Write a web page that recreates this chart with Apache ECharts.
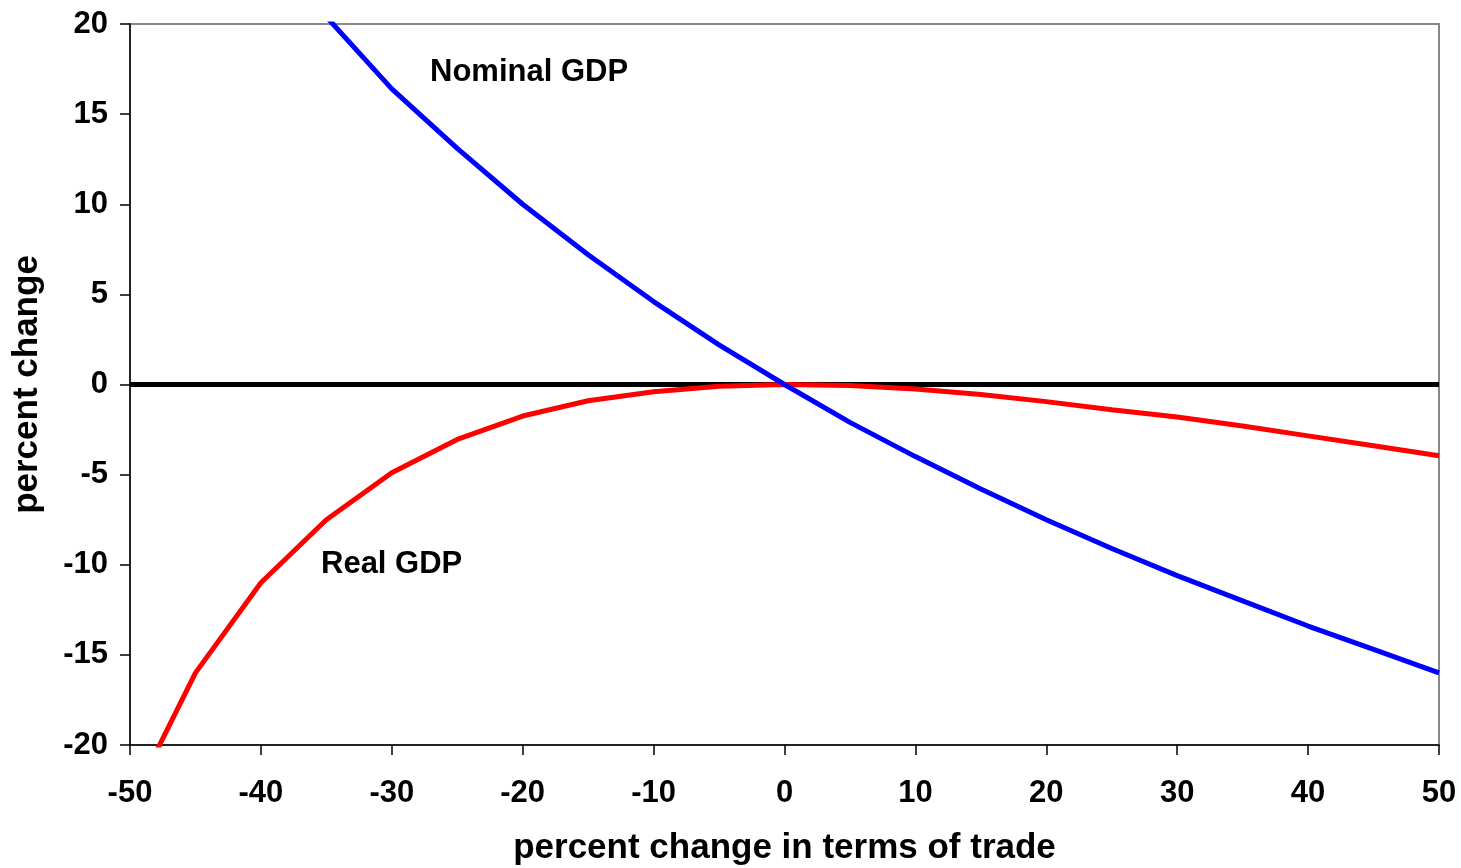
<!DOCTYPE html>
<html>
<head>
<meta charset="utf-8">
<script src="https://cdn.jsdelivr.net/npm/echarts@6/dist/echarts.min.js"></script>
<style>
html,body{margin:0;padding:0;background:#fff;}
#chart{width:1461px;height:868px;}
</style>
</head>
<body>
<div id="chart"></div>
<script>
const nominalX = [-35,-30,-25,-20,-15,-10,-5,0,5,10,15,20,25,30,35,40,45,50];
const nominalY = [20.4,16.4,13.1,10.0,7.2,4.6,2.2,0,-2.1,-4.0,-5.8,-7.5,-9.1,-10.6,-12.0,-13.4,-14.7,-16.0];
const realX = [-50,-45,-40,-35,-30,-25,-20,-15,-10,-5,0,5,10,15,20,25,30,35,40,45,50];
const realY = [-23.3,-16.0,-11.0,-7.5,-4.9,-3.05,-1.75,-0.9,-0.4,-0.1,0,-0.05,-0.25,-0.55,-0.95,-1.4,-1.8,-2.3,-2.85,-3.4,-3.95];
const zeroX = [-50,50];
const zeroY = [0,0];
const xTicks = {min:-50,max:50,interval:10};
const yTicks = {min:-20,max:20,interval:5};

const zip = (xs, ys) => xs.map((x,i)=>[x, ys[i]]);
const FONT = '"Liberation Sans", Arial, sans-serif';

const chart = echarts.init(document.getElementById('chart'), null, {renderer:'canvas'});
chart.setOption({
  animation:false,
  backgroundColor:'#fff',
  grid:{left:130,right:22,top:24,bottom:123,containLabel:false,outerBoundsMode:'none',show:true,borderColor:'#888',borderWidth:2,backgroundColor:'transparent'},
  xAxis:{
    type:'value',min:xTicks.min,max:xTicks.max,interval:xTicks.interval,
    name:'percent change in terms of trade',nameLocation:'middle',nameGap:86,
    nameTextStyle:{fontFamily:FONT,fontWeight:'bold',fontSize:35,color:'#000'},
    axisLine:{show:true,onZero:false,lineStyle:{color:'#000',width:1.5}},
    axisTick:{show:true,inside:false,length:10,lineStyle:{color:'#000',width:1.5}},
    axisLabel:{fontFamily:FONT,fontWeight:'bold',fontSize:31,color:'#000',margin:33},
    splitLine:{show:false}
  },
  yAxis:{
    type:'value',min:yTicks.min,max:yTicks.max,interval:yTicks.interval,
    name:'percent change',nameLocation:'middle',nameGap:85,
    nameTextStyle:{fontFamily:FONT,fontWeight:'bold',fontSize:35,color:'#000'},
    axisLine:{show:true,onZero:false,lineStyle:{color:'#000',width:1.5}},
    axisTick:{show:true,inside:false,length:10,lineStyle:{color:'#000',width:1.5}},
    axisLabel:{fontFamily:FONT,fontWeight:'bold',fontSize:31,color:'#000',margin:22},
    splitLine:{show:false}
  },
  series:[
    {type:'line',data:zip(zeroX,zeroY),symbol:'none',lineStyle:{color:'#000',width:5},silent:true},
    {type:'line',name:'Real GDP',data:zip(realX,realY),symbol:'none',clip:true,lineStyle:{color:'#ff0000',width:5}},
    {type:'line',name:'Nominal GDP',data:zip(nominalX,nominalY),symbol:'none',clip:true,lineStyle:{color:'#0000ff',width:5}}
  ],
  graphic:[
    {type:'text',left:430,top:57,style:{text:'Nominal GDP',font:'bold 31px "Liberation Sans", Arial, sans-serif',fill:'#000'}},
    {type:'text',left:321,top:549,style:{text:'Real GDP',font:'bold 31px "Liberation Sans", Arial, sans-serif',fill:'#000'}}
  ]
});
</script>
</body>
</html>
